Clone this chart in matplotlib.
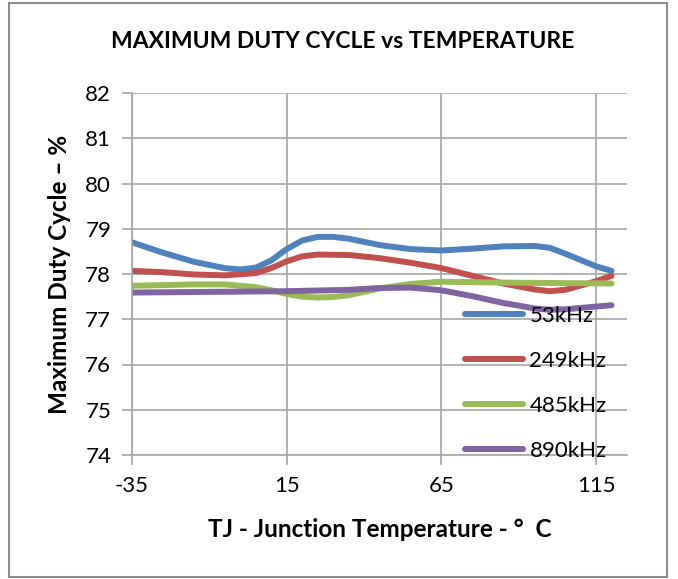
import matplotlib
matplotlib.use("Agg")
import matplotlib.pyplot as plt
from matplotlib.patches import Rectangle

# values (junction temp in C, duty cycle in %)
temp_53 = [-35, -25, -15, -5, 0, 5, 10, 15, 20, 25, 30, 35, 45, 55, 65, 75, 85, 95, 100, 105, 115, 120]
duty_53 = [78.70, 78.47, 78.27, 78.13, 78.10, 78.14, 78.30, 78.55, 78.74, 78.82, 78.82, 78.78, 78.64,
           78.55, 78.52, 78.56, 78.61, 78.62, 78.58, 78.45, 78.17, 78.07]

temp_249 = [-35, -25, -15, -5, 5, 10, 15, 20, 25, 35, 45, 55, 65, 75, 85, 95, 100, 105, 115, 120]
duty_249 = [78.07, 78.04, 77.99, 77.97, 78.02, 78.13, 78.28, 78.39, 78.43, 78.42, 78.35, 78.25, 78.13,
            77.96, 77.79, 77.66, 77.62, 77.65, 77.84, 77.96]

temp_485 = [-35, -15, -5, 5, 10, 15, 20, 25, 30, 35, 45, 55, 65, 85, 120]
duty_485 = [77.74, 77.77, 77.77, 77.71, 77.64, 77.56, 77.50, 77.48, 77.49, 77.53, 77.68, 77.78, 77.83,
            77.81, 77.79]

temp_890 = [-35, 15, 35, 45, 55, 65, 75, 85, 95, 100, 105, 115, 120]
duty_890 = [77.59, 77.62, 77.65, 77.69, 77.70, 77.64, 77.51, 77.36, 77.24, 77.21, 77.22, 77.28, 77.31]

series_names = ["53kHz", "249kHz", "485kHz", "890kHz"]
series_colors = ["#4F81BD", "#C0504D", "#9BBB59", "#8064A2"]

x_ticks = [-35, 15, 65, 115]
y_ticks = [74, 75, 76, 77, 78, 79, 80, 81, 82]

plt.rcParams['font.family'] = ['Lato', 'DejaVu Sans']
plt.rcParams['axes.unicode_minus'] = False
W, H = 678, 579
fig = plt.figure(figsize=(W / 100, H / 100), dpi=100)
fig.patch.set_facecolor("white")

# outer grey frame round the chart
fig.patches.append(Rectangle((9 / W, 1 - 577 / H), 658 / W, 574 / H, transform=fig.transFigure,
                             fill=False, edgecolor="#8c8c8c", linewidth=1.5))

ax = fig.add_axes([132 / W, 1 - 455 / H, (627 - 132) / W, (455 - 93) / H])

data = [(temp_53, duty_53), (temp_249, duty_249), (temp_485, duty_485), (temp_890, duty_890)]
for (tx, dy), name, col in zip(data, series_names, series_colors):
    ax.plot(tx, dy, color=col, linewidth=4.3, label=name,
            solid_capstyle="round", solid_joinstyle="round")

ax.set_xlim(-35, 125)
ax.set_ylim(74, 82)
ax.set_xticks(x_ticks)
ax.set_yticks(y_ticks)
ax.grid(True, color="#a6a6a6", linewidth=1.2)
ax.set_axisbelow(True)
for s in ["top", "right"]:
    ax.spines[s].set_visible(False)
for s in ["left", "bottom"]:
    ax.spines[s].set_color("#a6a6a6")
    ax.spines[s].set_linewidth(1.2)
ax.tick_params(length=7, width=1.2, color="#a6a6a6", labelsize=16, pad=8)

ax.set_xlabel("TJ - Junction Temperature - °  C", fontsize=17.5, fontweight="bold", labelpad=16)
ax.set_ylabel("Maximum Duty Cycle – %", fontsize=17.5, fontweight="bold", labelpad=10)

fig.text(343 / W, 1 - 42 / H, "MAXIMUM DUTY CYCLE vs TEMPERATURE", fontsize=16.5,
         fontweight="bold", ha="center", va="center")

ax.legend(loc="upper left", bbox_to_anchor=(465 / W, 1 - 306 / H), bbox_transform=fig.transFigure,
          frameon=False, fontsize=16, handlelength=2.6, handletextpad=0.3, labelspacing=1.12,
          borderpad=0, borderaxespad=0)

fig.savefig("out.png", dpi=100)
